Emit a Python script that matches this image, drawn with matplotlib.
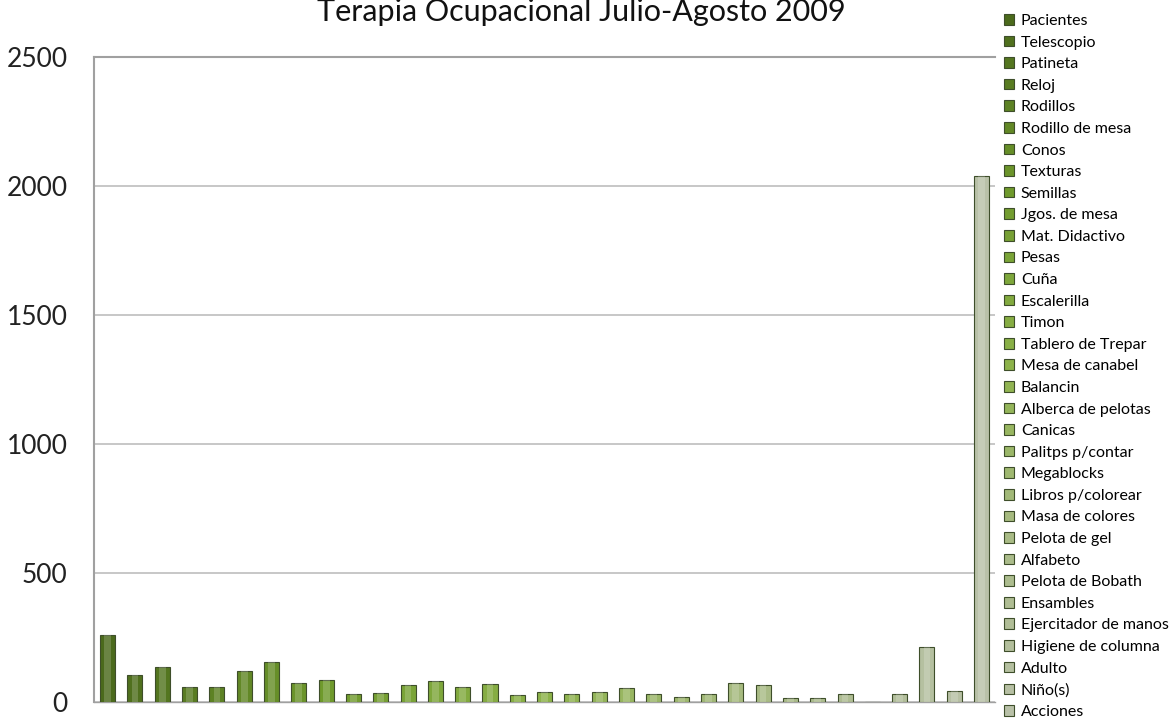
import matplotlib.pyplot as plt
import numpy as np
from matplotlib.colors import LinearSegmentedColormap

items = ['Pacientes', 'Telescopio', 'Patineta', 'Reloj', 'Rodillos',
         'Rodillo de mesa', 'Conos', 'Texturas', 'Semillas', 'Jgos. de mesa',
         'Mat. Didactivo', 'Pesas', 'Cuña', 'Escalerilla', 'Timon',
         'Tablero de Trepar', 'Mesa de canabel', 'Balancin',
         'Alberca de pelotas', 'Canicas', 'Palitps p/contar', 'Megablocks',
         'Libros p/colorear', 'Masa de colores', 'Pelota de gel', 'Alfabeto',
         'Pelota de Bobath', 'Ensambles', 'Ejercitador de manos',
         'Higiene de columna', 'Adulto', 'Niño(s)', 'Acciones']
values = [260, 105, 134, 59, 59, 120, 154, 75, 85, 31, 36, 66, 81, 59, 70,
          27, 37, 31, 37, 55, 31, 21, 31, 75, 66, 17, 17, 31, 0, 31, 212,
          43, 2040]
yticks = [0, 500, 1000, 1500, 2000, 2500]

plt.rcParams['font.family'] = ['Lato', 'DejaVu Sans']

greens = LinearSegmentedColormap.from_list(
    'greens', ['#4b6a1c', '#6f9a2c', '#8db34a', '#a9bb86', '#b9c1a8'])
n = len(items)
colors = [greens(i / (n - 1)) for i in range(n)]

fig = plt.figure(figsize=(11.75, 7.27), dpi=100)
ax = fig.add_axes([0.080, 0.0344, 0.767, 0.8872])

x = np.arange(n)
width = 0.55
for i in range(n):
    ax.bar(x[i], values[i], width, color=colors[i], edgecolor='#3e4e2a',
           linewidth=0.8, label=items[i], zorder=3)
    # lighter centre stripe for the cylinder look
    ax.bar(x[i], values[i], width * 0.45, color='white', alpha=0.18,
           linewidth=0, zorder=4)

ax.set_xlim(-0.5, n - 0.5)
ax.set_ylim(0, 2500)
ax.set_yticks(yticks)
ax.set_xticks([])
ax.tick_params(axis='y', length=0, pad=19, labelsize=19, labelcolor='#222222')
ax.yaxis.grid(True, color='#bdbdbd', linewidth=1.2, zorder=0)

for side in ['left', 'top', 'bottom']:
    ax.spines[side].set_color('#a0a0a0')
    ax.spines[side].set_linewidth(1.5)
ax.spines['right'].set_visible(False)
ax.spines['bottom'].set_linestyle((0, (2, 1)))
ax.spines['bottom'].set_linewidth(1.0)

fig.text(0.495, 1 - 21 / 727, 'Terapia Ocupacional Julio-Agosto 2009',
         ha='center', va='baseline', fontsize=22, color='#111111')

handles, labels = ax.get_legend_handles_labels()
fig.legend(handles, labels,
           loc='upper left', bbox_to_anchor=(1004 / 1175, 1 - 14 / 727),
           frameon=False, fontsize=11.5, handlelength=0.65, handleheight=0.65,
           handletextpad=0.4, labelspacing=0.475, borderaxespad=0,
           borderpad=0)

fig.savefig('out.png', dpi=100)
